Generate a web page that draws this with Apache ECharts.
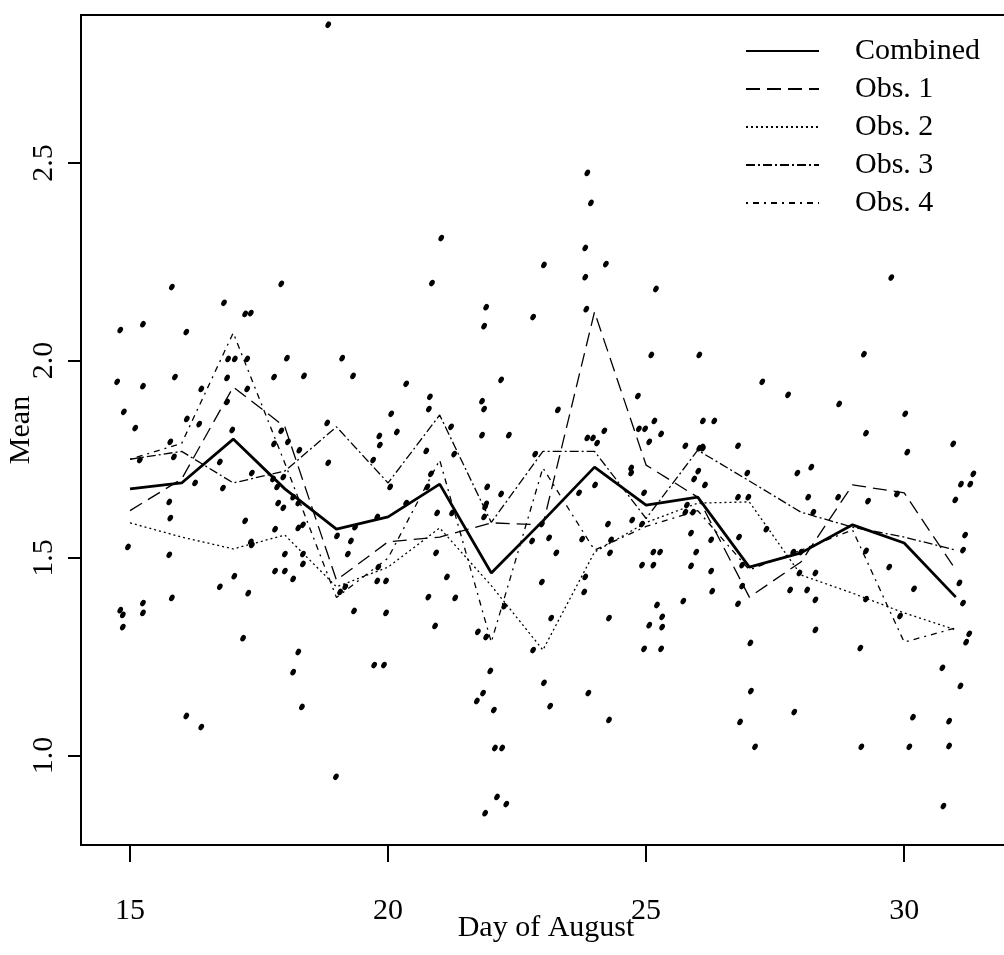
<!DOCTYPE html>
<html>
<head>
<meta charset="utf-8">
<script src="https://cdn.jsdelivr.net/npm/echarts@6/dist/echarts.min.js"></script>
<style>
  html, body { margin: 0; padding: 0; background: #fff; }
  #chart { width: 1004px; height: 955px; }
</style>
</head>
<body>
<div id="chart"></div>
<script>
// days of August
const days = [15, 16, 17, 18, 19, 20, 21, 22, 23, 24, 25, 26, 27, 28, 29, 30, 31];
const xTicks = [15, 20, 25, 30];
const yTicks = [1.0, 1.5, 2.0, 2.5];

// daily means
const combined = [1.675, 1.690, 1.801, 1.675, 1.573, 1.604, 1.687, 1.462, 1.594, 1.730, 1.634, 1.654, 1.477, 1.513, 1.584, 1.538, 1.401];
const obs1 = [1.62, 1.70, 1.933, 1.832, 1.444, 1.541, 1.553, 1.589, 1.584, 2.123, 1.735, 1.654, 1.401, 1.49, 1.685, 1.665, 1.47];
const obs2 = [1.589, 1.553, 1.523, 1.558, 1.427, 1.477, 1.576, 1.43, 1.267, 1.515, 1.59, 1.639, 1.642, 1.457, 1.411, 1.361, 1.318];
const obs3 = [1.75, 1.77, 1.69, 1.72, 1.832, 1.69, 1.862, 1.59, 1.77, 1.77, 1.60, 1.773, 1.695, 1.616, 1.578, 1.553, 1.52];
const obs4 = [1.75, 1.79, 2.07, 1.74, 1.40, 1.50, 1.748, 1.287, 1.728, 1.52, 1.58, 1.62, 1.47, 1.52, 1.571, 1.287, 1.323];

// individual observations (jittered day, value)
const dots = [
  [15.81,2.186],[17.93,2.194],[16.82,2.146],[17.23,2.118],[17.34,2.120],[14.81,2.077],[15.25,2.092],[16.09,2.072],
  [16.90,2.004],[17.03,2.004],[17.27,2.004],[18.04,2.006],[19.11,2.006],[14.75,1.946],[15.25,1.935],[15.87,1.958],
  [16.88,1.956],[17.79,1.958],[18.37,1.961],[19.32,1.961],[20.35,1.941],[14.88,1.870],[15.10,1.829],[16.10,1.852],
  [16.38,1.928],[17.27,1.928],[16.88,1.895],[16.34,1.839],[16.98,1.824],[17.93,1.822],[18.82,1.842],[20.06,1.865],
  [20.17,1.819],[19.83,1.809],[19.84,1.786],[15.78,1.794],[15.85,1.756],[17.79,1.789],[18.06,1.794],[18.28,1.773],
  [23.86,2.475],[23.93,2.399],[21.03,2.310],[23.82,2.285],[23.02,2.242],[24.22,2.244],[20.85,2.196],[23.82,2.211],
  [25.19,2.181],[21.90,2.135],[21.86,2.087],[22.81,2.110],[23.84,2.130],[25.10,2.014],[26.03,2.014],[22.19,1.951],
  [20.81,1.908],[20.79,1.877],[21.82,1.897],[21.86,1.877],[23.29,1.875],[24.84,1.910],[25.16,1.847],[26.10,1.847],
  [20.74,1.771],[21.22,1.832],[21.82,1.811],[22.34,1.811],[24.19,1.822],[23.86,1.804],[23.97,1.804],[24.05,1.791],
  [24.86,1.827],[24.98,1.827],[25.06,1.794],[25.29,1.814],[25.76,1.784],[26.03,1.778],[26.09,1.781],[22.85,1.763],
  [29.75,2.210],[29.22,2.016],[27.25,1.946],[27.75,1.913],[28.74,1.890],[26.32,1.847],[30.02,1.865],[29.26,1.816],
  [26.10,1.778],[26.78,1.784],[30.95,1.789],[30.06,1.768],[26.01,1.720],[25.93,1.700],[26.14,1.685],[26.96,1.715],
  [27.93,1.715],[28.20,1.730],[31.34,1.713],[31.10,1.687],[31.28,1.687],[26.78,1.654],[26.98,1.654],[28.14,1.654],
  [28.72,1.654],[30.99,1.647],[25.79,1.634],[25.91,1.616],[25.76,1.616],[28.24,1.616],[29.30,1.644],[29.86,1.662],
  [27.33,1.573],[25.87,1.563],[26.26,1.546],[26.80,1.553],[31.18,1.558],[31.14,1.520],[25.97,1.515],[27.85,1.515],
  [28.00,1.515],[29.26,1.518],[25.87,1.480],[26.26,1.467],[26.86,1.482],[27.97,1.462],[28.28,1.462],[29.71,1.477],
  [25.72,1.391],[26.28,1.416],[26.86,1.429],[26.78,1.384],[27.79,1.419],[28.12,1.419],[28.28,1.394],[29.26,1.396],
  [30.19,1.422],[31.07,1.437],[31.14,1.386],[29.92,1.353],[27.02,1.285],[28.28,1.318],[29.15,1.272],[31.26,1.308],
  [31.20,1.287],[30.74,1.222],[31.09,1.176],[27.03,1.163],[27.87,1.110],[26.82,1.085],[30.17,1.097],[30.87,1.087],
  [27.11,1.022],[29.17,1.022],[30.10,1.022],[30.87,1.024],[30.76,0.872],
  [21.28,1.763],[20.04,1.680],[20.83,1.713],[21.92,1.680],[22.19,1.662],[20.76,1.680],[20.35,1.639],[20.95,1.614],
  [21.90,1.637],[21.88,1.629],[21.24,1.614],[21.86,1.604],[23.70,1.665],[24.01,1.685],[24.71,1.728],[24.71,1.715],
  [24.96,1.665],[22.98,1.586],[22.79,1.543],[23.12,1.551],[23.26,1.513],[23.76,1.548],[24.26,1.586],[24.32,1.546],
  [24.30,1.513],[24.73,1.596],[24.92,1.586],[25.14,1.515],[25.27,1.515],[24.92,1.482],[25.14,1.482],[19.96,1.442],
  [20.93,1.513],[21.14,1.452],[20.78,1.401],[21.30,1.399],[22.98,1.439],[23.82,1.452],[23.80,1.414],[19.96,1.361],
  [20.91,1.328],[22.25,1.378],[23.16,1.348],[24.28,1.348],[25.21,1.381],[25.31,1.351],[25.31,1.325],[25.06,1.330],
  [21.74,1.313],[21.90,1.300],[22.81,1.267],[24.96,1.270],[25.29,1.270],[19.92,1.229],[21.98,1.214],[23.02,1.184],
  [23.88,1.158],[21.84,1.158],[21.72,1.138],[22.05,1.115],[23.14,1.125],[24.28,1.090],[22.07,1.019],[22.21,1.019],
  [21.88,0.854],[22.11,0.895],[22.29,0.877],[18.99,0.946],
  [16.74,1.743],[16.26,1.690],[17.36,1.715],[18.84,1.741],[19.71,1.748],[16.80,1.677],[15.76,1.642],[15.78,1.601],
  [17.77,1.700],[17.85,1.680],[17.97,1.705],[18.16,1.654],[18.26,1.639],[17.87,1.639],[17.97,1.627],[17.23,1.594],
  [17.81,1.573],[18.26,1.576],[18.35,1.584],[19.01,1.556],[19.36,1.578],[19.79,1.604],[19.28,1.543],[19.22,1.510],
  [14.96,1.528],[15.76,1.508],[17.34,1.541],[17.36,1.533],[18.00,1.510],[18.35,1.510],[18.35,1.485],[17.81,1.467],
  [18.00,1.467],[18.16,1.447],[17.02,1.454],[16.74,1.427],[17.29,1.411],[15.81,1.399],[19.07,1.414],[19.17,1.427],
  [19.81,1.477],[19.79,1.442],[19.34,1.366],[14.81,1.368],[14.86,1.356],[15.25,1.386],[15.25,1.361],[14.86,1.325],
  [17.19,1.297],[18.26,1.262],[18.16,1.211],[18.33,1.123],[19.73,1.229],[16.09,1.100],[16.38,1.072],
  [18.84,2.85],[15.19,1.748]
];

const serif = 'Liberation Serif, Times New Roman, serif';
const pair = arr => days.map((d, i) => [d, arr[i]]);

const chart = echarts.init(document.getElementById('chart'), null, { renderer: 'canvas' });

const lineSeries = (name, arr, width, type) => ({
  name: name,
  type: 'line',
  data: pair(arr),
  symbol: 'none',
  lineStyle: { color: '#000', width: width, type: type },
  itemStyle: { color: '#000' },
  z: 3
});

chart.setOption({
  backgroundColor: '#fff',
  animation: false,
  grid: {
    left: 81, top: 15, width: 930, height: 830,
    outerBoundsMode: 'none',
    containLabel: false,
    show: true, borderColor: '#000', borderWidth: 2, backgroundColor: 'transparent'
  },
  legend: {
    orient: 'vertical',
    left: 745,
    top: 36,
    padding: 0,
    itemWidth: 73,
    itemHeight: 14,
    itemGap: 8,
    selectedMode: false,
    itemStyle: { opacity: 0 },
    data: ['Combined', 'Obs. 1', 'Obs. 2', 'Obs. 3', 'Obs. 4'],
    textStyle: { color: '#000', fontFamily: serif, fontSize: 30, padding: [0, 0, 0, 31] }
  },
  xAxis: {
    type: 'value',
    min: 14.05,
    max: 32.07,
    name: 'Day of August',
    nameLocation: 'middle',
    nameGap: 68,
    nameMoveOverlap: false,
    nameTextStyle: { color: '#000', fontFamily: serif, fontSize: 30 },
    axisLine: { show: true, lineStyle: { color: '#000', width: 2 } },
    axisTick: { show: true, length: 17, customValues: xTicks, lineStyle: { color: '#000', width: 2 } },
    axisLabel: { customValues: xTicks, color: '#000', fontFamily: serif, fontSize: 30, margin: 51 },
    splitLine: { show: false }
  },
  yAxis: {
    type: 'value',
    min: 0.7734,
    max: 2.8747,
    name: 'Mean',
    nameLocation: 'middle',
    nameRotate: 90,
    nameGap: 45,
    nameMoveOverlap: false,
    nameTextStyle: { color: '#000', fontFamily: serif, fontSize: 30 },
    axisLine: { show: true, lineStyle: { color: '#000', width: 2 } },
    axisTick: { show: true, length: 13, customValues: yTicks, lineStyle: { color: '#000', width: 2 } },
    axisLabel: {
      customValues: yTicks, rotate: 90, color: '#000', fontFamily: serif, fontSize: 30, margin: 22,
      formatter: v => v.toFixed(1)
    },
    splitLine: { show: false }
  },
  series: [
    {
      name: 'points',
      type: 'scatter',
      data: dots,
      symbol: 'circle',
      symbolSize: [5, 7],
      symbolRotate: -30,
      itemStyle: { color: '#000', opacity: 1 },
      z: 2
    },
    lineSeries('Obs. 1', obs1, 1.3, [14, 7]),
    lineSeries('Obs. 2', obs2, 1.3, [2, 3]),
    lineSeries('Obs. 3', obs3, 1.3, [9, 3, 2, 3]),
    lineSeries('Obs. 4', obs4, 1.3, [2, 5, 6, 5]),
    lineSeries('Combined', combined, 2.8, 'solid')
  ]
});
</script>
</body>
</html>
